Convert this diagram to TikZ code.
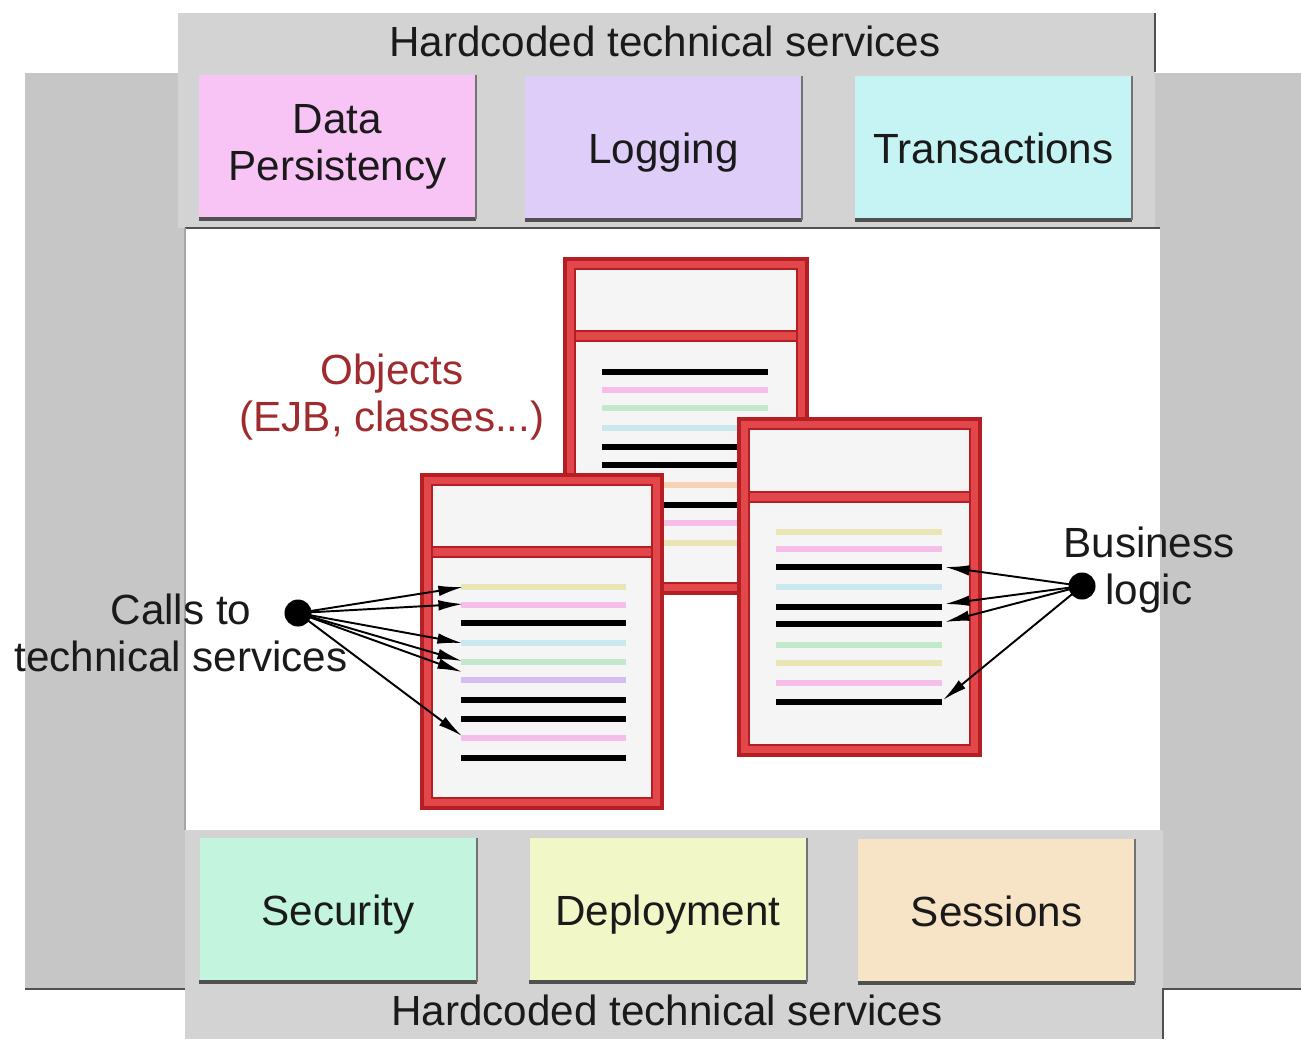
\documentclass[tikz,border=0pt]{standalone}
\usepackage{fontspec}
\setmainfont{Liberation Sans}
\usetikzlibrary{arrows.meta}
\definecolor{outergray}{HTML}{C6C6C6}
\definecolor{bandgray}{HTML}{D3D3D3}
\definecolor{shadowc}{HTML}{505050}
\definecolor{cpink}{HTML}{F8C4F6}
\definecolor{clav}{HTML}{DDCDF8}
\definecolor{ccyan}{HTML}{C6F3F3}
\definecolor{cmint}{HTML}{C2F4DE}
\definecolor{cyel}{HTML}{F2F7C8}
\definecolor{cpeach}{HTML}{F7E3C6}
\definecolor{rdark}{HTML}{B51F24}
\definecolor{rmid}{HTML}{E2474B}
\definecolor{objfill}{HTML}{F5F5F5}
\definecolor{lyel}{HTML}{E9E5B4}
\definecolor{lpink}{HTML}{F6BDE9}
\definecolor{lgreen}{HTML}{C2E9CB}
\definecolor{lcyan}{HTML}{CBE7EE}
\definecolor{llav}{HTML}{D3BDF2}
\definecolor{lorange}{HTML}{F6D3B5}
\definecolor{objtext}{HTML}{A02B2E}
\definecolor{txt}{HTML}{1A1A1A}
\newcommand{\objbox}[5]{%
  \draw[objout] (#1,#2) rectangle (#3,#4);
  \draw[objin] (#1+10,#2+10) rectangle (#3-10,#4-10);
  \draw[objout, line width=0.7pt] (#1+10,#5-5) rectangle (#3-10,#5+5);
}
\begin{document}
\begin{tikzpicture}[x=0.01cm,y=-0.01cm,
  txtfont/.style={font=\fontsize{12}{13.4}\selectfont, text=txt, align=center, inner sep=0pt},
  svc/.style={txtfont, minimum width=2.76cm, minimum height=1.43cm},
  svcone/.style={svc, text height=8.6pt, text depth=0pt},
  bshadow/.style={draw=shadowc, line width=1.2pt},
  rshadow/.style={draw=shadowc!80, line width=0.6pt},
  objout/.style={fill=rmid, draw=rdark, line width=1pt},
  objin/.style={fill=objfill, draw=rdark, line width=0.7pt},
  tline/.style={line width=1.8pt},
  arr/.style={-{Latex[length=7pt,width=3pt]}, line width=0.55pt, black},
  dot/.style={circle, fill=black, minimum size=0.27cm, inner sep=0pt}]

\useasboundingbox (0,0) rectangle (1301,1039);
\fill[white] (0,0) rectangle (1301,1039);

% gray frames
\fill[outergray] (25,73) rectangle (1301,989);
\fill[bandgray] (178,13) rectangle (1155,228);
\fill[bandgray] (185,830) rectangle (1163,1039);
\fill[white] (185,228) rectangle (1160,830);
\draw[draw=shadowc, line width=0.6pt] (1155,13) -- (1155,72);
\draw[draw=shadowc, line width=0.8pt] (185,228) -- (1160,228);
\draw[draw=gray!70, line width=0.4pt] (185,228) -- (185,830);
\draw[draw=shadowc, line width=0.8pt] (25,989) -- (185,989);
\draw[draw=shadowc, line width=0.8pt] (1163,1039) -- (1163,989) -- (1301,989);

% service boxes
\node[svc, fill=cpink] (dp) at (337.5,147) {Data\\Persistency};
\node[svcone, fill=clav] (lg) at (663.5,148) {Logging};
\node[svcone, fill=ccyan] (tr) at (993.5,148) {Transactions};
\node[svcone, fill=cmint] (se) at (338,910) {Security};
\node[svcone, fill=cyel] (de) at (668,910) {Deployment};
\node[svcone, fill=cpeach] (ss) at (996.5,911) {Sessions};
\foreach \n in {dp,lg,tr,se,de,ss}{
  \draw[bshadow] (\n.south west) -- (\n.south east);
  \draw[rshadow] (\n.south east) -- (\n.north east);
}

% back object
\objbox{565}{259}{807}{593}{336}
\foreach \y/\c in {372/black,390/lpink,408/lgreen,428/lcyan,447/black,465/black,485/lorange,505/black,523/lpink,543/lyel}
  \draw[tline, \c] (602,\y) -- (768,\y);

% left object
\objbox{422}{475}{662}{808}{552}
\foreach \y/\c in {587/lyel,605/lpink,623/black,643/lcyan,662/lgreen,680/llav,700/black,719/black,738/lpink,758/black}
  \draw[tline, \c] (461,\y) -- (626,\y);

% right object
\objbox{739}{419}{980}{755}{497}
\foreach \y/\c in {532/lyel,549/lpink,567/black,587/lcyan,607/black,624/black,645/lgreen,663/lyel,683/lpink,702/black}
  \draw[tline, \c] (776,\y) -- (942,\y);

% texts
\node[txtfont] (topt) at (665,41) {Hardcoded technical services};
\node[txtfont] (bott) at (667,1010) {Hardcoded technical services};
\node[txtfont] (callt) at (181,633) {Calls to\\technical services};
\node[txtfont] (bizt) at (1149,570) {Business\\logic};
\node[txtfont, text=objtext] (objt) at (392,397) {Objects\\(EJB, classes...)};

% dots and arrows
\node[dot] (calls) at (298,613) {};
\node[dot] (biz) at (1082,586) {};
\coordinate (l1) at (463,587);
\coordinate (l2) at (463,604);
\coordinate (l3) at (462,643);
\coordinate (l4) at (462,661);
\coordinate (l5) at (462,672);
\coordinate (l6) at (462,736);
\coordinate (r1) at (945,567);
\coordinate (r2) at (945,604);
\coordinate (r3) at (945,622);
\coordinate (r4) at (943,700);
\foreach \t in {l1,l2,l3,l4,l5,l6} \draw[arr] (calls.center) -- (\t);
\foreach \t in {r1,r2,r3,r4} \draw[arr] (biz.center) -- (\t);
\end{tikzpicture}
\end{document}
